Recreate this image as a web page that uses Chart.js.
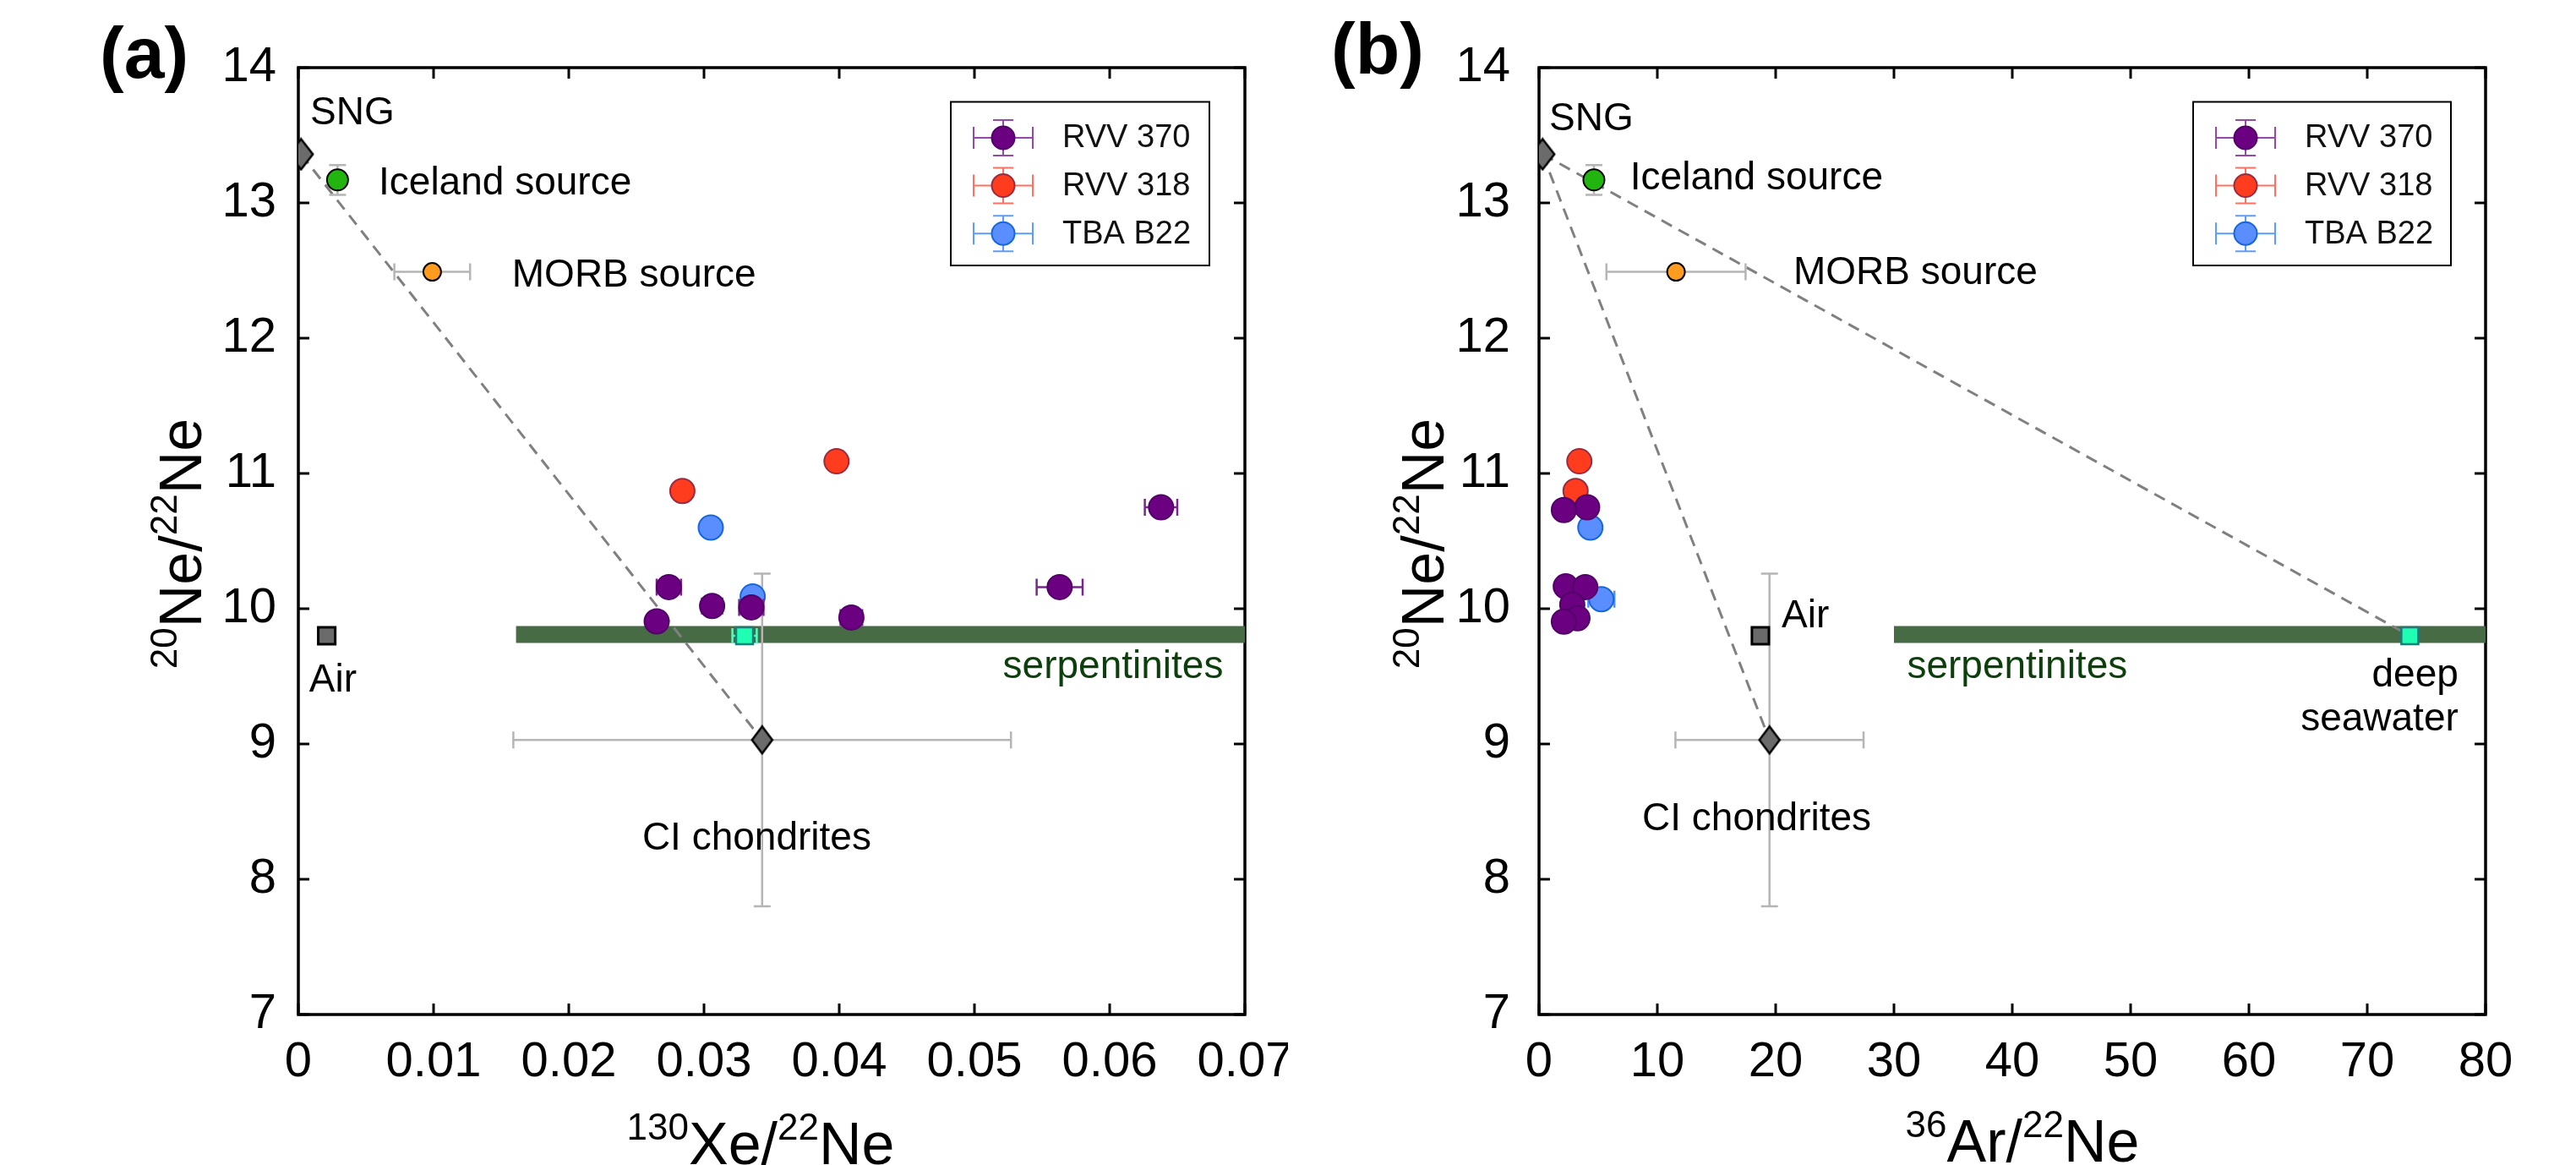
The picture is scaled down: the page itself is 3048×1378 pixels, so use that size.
<!DOCTYPE html>
<html>
<head>
<meta charset="utf-8">
<script src="https://cdn.jsdelivr.net/npm/chart.js@4.4.1/dist/chart.umd.min.js"></script>
<style>
  html, body { margin: 0; padding: 0; background: #fff; }
  #wrap { position: relative; width: 3048px; height: 1378px; }
  canvas { position: absolute; top: 0; }
  #chartA { left: 0; }
  #chartB { left: 1524px; }
</style>
</head>
<body>
<div id="wrap">
  <canvas id="chartA" width="1524" height="1378"></canvas>
  <canvas id="chartB" width="1524" height="1378"></canvas>
</div>
<script>
const FONT = "'Liberation Sans', Arial, Helvetica, sans-serif";

// ====== TICK LABELS ======
const xTicksXe = ['0', '0.01', '0.02', '0.03', '0.04', '0.05', '0.06', '0.07'];
const xTicksAr = ['0', '10', '20', '30', '40', '50', '60', '70', '80'];
const yTicksNe = ['7', '8', '9', '10', '11', '12', '13', '14'];

// ====== SAMPLES (a) 130Xe/22Ne vs 20Ne/22Ne ======
const rvv370XeA    = [0.0638, 0.0274, 0.0563, 0.0306, 0.0335, 0.0409, 0.0265];
const rvv370NeA    = [10.75, 10.16, 10.16, 10.02, 10.01, 9.935, 9.906];
const rvv370XeErrA = [0.0012, 0.0009, 0.0017, 0.00075, 0.0009, 0.0008, 0];
const rvv318XeA    = [0.0284, 0.0398];
const rvv318NeA    = [10.87, 11.09];
const tbaXeA       = [0.0305, 0.0336];
const tbaNeA       = [10.60, 10.09];

// ====== SAMPLES (b) 36Ar/22Ne vs 20Ne/22Ne ======
const rvv370ArB    = [4.07, 2.10, 2.26, 3.91, 2.81, 3.25, 2.10];
const rvv370NeB    = [10.75, 10.73, 10.165, 10.16, 10.03, 9.93, 9.905];
const rvv318ArB    = [3.41, 3.09];
const rvv318NeB    = [11.09, 10.87];
const tbaArB       = [4.34, 5.27];
const tbaNeB       = [10.60, 10.07];
const tbaArErrB    = [0, 1.1];

// ====== END-MEMBERS ======
const endNames = ['SNG', 'Iceland source', 'MORB source', 'Air', 'CI chondrites', 'deep seawater'];
const endNe    = [13.36, 13.17, 12.49, 9.80, 9.03, 9.80];
const endNeErr = [0, 0.11, 0, 0, 1.23, 0];
const endXe    = [0.0002, 0.0029, 0.0099, 0.0021, 0.0343, 0.0330];
const endXeErr = [0, 0, 0.0028, 0, 0.0184, 0.0009];
const endAr    = [0.3, 4.64, 11.58, 18.71, 19.48, 73.6];
const endArErr = [0, 0, 5.88, 0, 7.95, 0];

// serpentinite band
const serpNe = 9.81;
const serpXeRange = [0.0161, 0.07];
const serpArRange = [30, 80];

// ====== MARKERS ======
function makeDiamond(w, h) {
  const c = document.createElement('canvas');
  c.width = w + 4; c.height = h + 4;
  const g = c.getContext('2d');
  g.beginPath();
  g.moveTo(c.width / 2, 2);
  g.lineTo(w + 2, c.height / 2);
  g.lineTo(c.width / 2, h + 2);
  g.lineTo(2, c.height / 2);
  g.closePath();
  g.fillStyle = '#6b6b6b';
  g.fill();
  g.lineWidth = 2.5;
  g.strokeStyle = '#000';
  g.stroke();
  return c;
}
const diamondSNG = makeDiamond(28, 36);
const diamondCI = makeDiamond(24, 32);

function pts(xs, ys) { return xs.map((x, i) => ({ x: x, y: ys[i] })); }

function buildDatasets(P) {
  const E = P.endX, EE = P.endXErr;
  const ep = i => ({ x: E[i], y: endNe[i] });
  const sets = [
    { label: 'RVV 370', data: pts(P.s370x, P.s370y), xErr: P.s370xErr, errColor: '#7a2590', legendBar: '#9448a8',
      backgroundColor: '#6b0080', borderColor: '#53006a', borderWidth: 2, pointRadius: 14.5, inLegend: true },
    { label: 'RVV 318', data: pts(P.s318x, P.s318y), legendBar: '#ff7060',
      backgroundColor: '#ff3c1d', borderColor: '#9b2b3e', borderWidth: 2, pointRadius: 14.5, inLegend: true },
    { label: 'TBA B22', data: pts(P.tbax, P.tbay), xErr: P.tbaxErr, errColor: '#4f8fff', legendBar: '#5c9cff',
      backgroundColor: '#5a8eff', borderColor: '#1667dd', borderWidth: 2, pointRadius: 14.5, inLegend: true },
    { label: endNames[5], data: [ep(5)], xErr: [EE[5]], errColor: '#4dffc6', errCap: 9,
      pointStyle: 'rect', pointRadius: 14.2, backgroundColor: '#1effb3', borderColor: '#1a7b77', borderWidth: 2.5 },
    { label: endNames[3], data: [ep(3)],
      pointStyle: 'rect', pointRadius: 14.2, backgroundColor: '#6b6b6b', borderColor: '#000', borderWidth: 3 },
    { label: endNames[0], data: [ep(0)], pointStyle: diamondSNG, pointRadius: 18 },
    { label: endNames[4], data: [ep(4)], xErr: [EE[4]], yErr: [endNeErr[4]], errColor: '#b5b5b5',
      pointStyle: diamondCI, pointRadius: 16 },
    { label: endNames[1], data: [ep(1)], yErr: [endNeErr[1]], errColor: '#b5b5b5',
      backgroundColor: '#22b40f', borderColor: '#000', borderWidth: 2, pointRadius: 12.5 },
    { label: endNames[2], data: [ep(2)], xErr: [EE[2]], errColor: '#b5b5b5',
      backgroundColor: '#ff9b1f', borderColor: '#000', borderWidth: 2, pointRadius: 10.5 }
  ];
  P.mixing.forEach(pair => {
    sets.push({ label: 'mixing', data: [ep(pair[0]), ep(pair[1])], showLine: true, pointRadius: 0,
      borderColor: '#808080', borderWidth: 3, borderDash: [14, 9] });
  });
  sets.push({ label: 'serpentinites', data: P.serpX.map(x => ({ x: x, y: serpNe })), showLine: true,
    pointRadius: 0, borderColor: '#476b45', borderWidth: 20 });
  return sets;
}

// ====== DRAW HELPERS ======
function supText(ctx, parts, x, y, size) {
  const big = size + 'px ' + FONT, small = Math.round(size * 0.63) + 'px ' + FONT;
  let total = 0;
  parts.forEach(p => { ctx.font = p[1] ? small : big; total += ctx.measureText(p[0]).width; });
  let cx = x - total / 2;
  ctx.textAlign = 'left';
  ctx.textBaseline = 'alphabetic';
  parts.forEach(p => {
    ctx.font = p[1] ? small : big;
    ctx.fillText(p[0], cx, p[1] ? y - size * 0.41 : y);
    cx += ctx.measureText(p[0]).width;
  });
}

function errBars(chart, ds) {
  if (!ds.xErr && !ds.yErr) return;
  const ctx = chart.ctx, xs = chart.scales.x, ys = chart.scales.y;
  const cap = ds.errCap || 10;
  ctx.save();
  ctx.strokeStyle = ds.errColor;
  ctx.lineWidth = 2.5;
  ds.data.forEach((p, i) => {
    const px = xs.getPixelForValue(p.x), py = ys.getPixelForValue(p.y);
    const ex = ds.xErr ? ds.xErr[i] : 0, ey = ds.yErr ? ds.yErr[i] : 0;
    ctx.beginPath();
    if (ex > 0) {
      const x1 = xs.getPixelForValue(p.x - ex), x2 = xs.getPixelForValue(p.x + ex);
      ctx.moveTo(x1, py); ctx.lineTo(x2, py);
      ctx.moveTo(x1, py - cap); ctx.lineTo(x1, py + cap);
      ctx.moveTo(x2, py - cap); ctx.lineTo(x2, py + cap);
    }
    if (ey > 0) {
      const y1 = ys.getPixelForValue(p.y - ey), y2 = ys.getPixelForValue(p.y + ey);
      ctx.moveTo(px, y1); ctx.lineTo(px, y2);
      ctx.moveTo(px - cap, y1); ctx.lineTo(px + cap, y1);
      ctx.moveTo(px - cap, y2); ctx.lineTo(px + cap, y2);
    }
    ctx.stroke();
  });
  ctx.restore();
}

const panelPlugin = {
  id: 'panel',
  beforeDatasetsDraw(chart, args, P) {
    const ctx = chart.ctx, a = chart.chartArea, xs = chart.scales.x, ys = chart.scales.y;
    ctx.save();
    ctx.strokeStyle = '#000';
    ctx.lineWidth = 3;
    ctx.beginPath();
    xs.ticks.forEach((t, i) => {
      const px = xs.getPixelForTick(i);
      ctx.moveTo(px, a.bottom); ctx.lineTo(px, a.bottom - 13);
      ctx.moveTo(px, a.top); ctx.lineTo(px, a.top + 13);
    });
    ys.ticks.forEach((t, i) => {
      const py = ys.getPixelForTick(i);
      ctx.moveTo(a.left, py); ctx.lineTo(a.left + 13, py);
      ctx.moveTo(a.right, py); ctx.lineTo(a.right - 13, py);
    });
    ctx.stroke();
    ctx.lineWidth = 3.5;
    ctx.strokeRect(a.left, a.top, a.right - a.left, a.bottom - a.top);
    ctx.restore();
  },
  beforeDatasetDraw(chart, args) {
    errBars(chart, chart.data.datasets[args.index]);
  },
  afterDatasetsDraw(chart, args, P) {
    const ctx = chart.ctx, xs = chart.scales.x, ys = chart.scales.y;
    ctx.save();
    // annotations
    P.labels.forEach(l => {
      ctx.font = '46px ' + FONT;
      ctx.fillStyle = l.color || '#000';
      ctx.textAlign = l.align || 'left';
      ctx.textBaseline = 'alphabetic';
      ctx.fillText(l.text, xs.getPixelForValue(l.x), ys.getPixelForValue(l.y));
    });
    // legend
    const L = P.legend;
    ctx.fillStyle = '#fff';
    ctx.fillRect(L.left, L.top, L.width, L.height);
    ctx.strokeStyle = '#000';
    ctx.lineWidth = 2;
    ctx.strokeRect(L.left, L.top, L.width, L.height);
    chart.data.datasets.filter(d => d.inLegend).forEach((d, i) => {
      const cx = L.left + 62, cy = L.top + 42.5 + i * 56.6;
      ctx.strokeStyle = d.legendBar;
      ctx.lineWidth = 2;
      ctx.beginPath();
      ctx.moveTo(cx - 35, cy); ctx.lineTo(cx + 35, cy);
      ctx.moveTo(cx - 35, cy - 13); ctx.lineTo(cx - 35, cy + 13);
      ctx.moveTo(cx + 35, cy - 13); ctx.lineTo(cx + 35, cy + 13);
      ctx.moveTo(cx, cy - 21); ctx.lineTo(cx, cy + 21);
      ctx.moveTo(cx - 12, cy - 21); ctx.lineTo(cx + 12, cy - 21);
      ctx.moveTo(cx - 12, cy + 21); ctx.lineTo(cx + 12, cy + 21);
      ctx.stroke();
      ctx.beginPath();
      ctx.arc(cx, cy, 13.5, 0, Math.PI * 2);
      ctx.fillStyle = d.backgroundColor;
      ctx.fill();
      ctx.strokeStyle = d.borderColor;
      ctx.lineWidth = 2;
      ctx.stroke();
      ctx.fillStyle = '#111';
      ctx.font = '38px ' + FONT;
      ctx.textAlign = 'left';
      ctx.textBaseline = 'middle';
      ctx.fillText(d.label, L.left + 132, cy + 1);
    });
    // axis titles and panel letter
    ctx.fillStyle = '#000';
    supText(ctx, P.xTitle, P.xTitlePos[0], P.xTitlePos[1], 70);
    ctx.save();
    ctx.translate(P.yTitlePos[0], P.yTitlePos[1]);
    ctx.rotate(-Math.PI / 2);
    supText(ctx, P.yTitle, 0, 0, 70);
    ctx.restore();
    ctx.font = 'bold 86px ' + FONT;
    ctx.textAlign = 'left';
    ctx.textBaseline = 'alphabetic';
    ctx.fillText(P.letter, P.letterPos[0], P.letterPos[1]);
    ctx.restore();
  }
};

function makeChart(P) {
  const canvas = document.getElementById(P.canvas);
  const W = canvas.width, H = canvas.height;
  return new Chart(canvas.getContext('2d'), {
    type: 'scatter',
    data: { datasets: buildDatasets(P) },
    plugins: [panelPlugin],
    options: {
      responsive: false,
      devicePixelRatio: 1,
      animation: false,
      events: [],
      layout: { padding: { left: 0, top: P.area.top, right: W - P.area.right, bottom: 0 } },
      plugins: { legend: { display: false }, tooltip: { enabled: false }, panel: P },
      scales: {
        x: {
          type: 'linear', min: P.xMin, max: P.xMax,
          grid: { display: false, drawTicks: false },
          border: { display: false },
          ticks: { stepSize: P.xStep, autoSkip: false, maxRotation: 0, padding: 22, color: '#000',
            font: { family: FONT, size: 58 }, callback: (v, i) => P.xTicks[i] },
          afterFit: s => { s.height = H - P.area.bottom; s.paddingLeft = 0; s.paddingRight = 0; }
        },
        y: {
          type: 'linear', min: 7, max: 14,
          grid: { display: false, drawTicks: false },
          border: { display: false },
          ticks: { stepSize: 1, autoSkip: false, padding: P.yTickPad, color: '#000',
            font: { family: FONT, size: 58 }, callback: (v, i) => yTicksNe[i] },
          afterFit: s => { s.width = P.area.left; s.paddingTop = 0; s.paddingBottom = 0; }
        }
      }
    }
  });
}

const yTitle = [['20', true], ['Ne/', false], ['22', true], ['Ne', false]];

makeChart({
  canvas: 'chartA', letter: '(a)', letterPos: [118, 92],
  area: { left: 353, right: 1473, top: 80, bottom: 1200 },
  xMin: 0, xMax: 0.07, xStep: 0.01, xTicks: xTicksXe, yTickPad: 26,
  xTitle: [['130', true], ['Xe/', false], ['22', true], ['Ne', false]], xTitlePos: [900, 1377],
  yTitle: yTitle, yTitlePos: [238, 643],
  s370x: rvv370XeA, s370y: rvv370NeA, s370xErr: rvv370XeErrA,
  s318x: rvv318XeA, s318y: rvv318NeA, tbax: tbaXeA, tbay: tbaNeA, tbaxErr: null,
  endX: endXe, endXErr: endXeErr, mixing: [[0, 4]], serpX: serpXeRange,
  legend: { left: 1125, top: 120.5, width: 306, height: 193.5 },
  labels: [
    { text: 'SNG', x: 0.000875, y: 13.58 },
    { text: 'Iceland source', x: 0.00594, y: 13.0625 },
    { text: 'MORB source', x: 0.0158, y: 12.38 },
    { text: 'Air', x: 0.0008, y: 9.3875 },
    { text: 'CI chondrites', x: 0.0339, y: 8.22, align: 'center' },
    { text: 'serpentinites', x: 0.0521, y: 9.4875, color: '#0c3f0c' }
  ]
});

makeChart({
  canvas: 'chartB', letter: '(b)', letterPos: [51, 87],
  area: { left: 297, right: 1417, top: 80, bottom: 1200 },
  xMin: 0, xMax: 80, xStep: 10, xTicks: xTicksAr, yTickPad: 34,
  xTitle: [['36', true], ['Ar/', false], ['22', true], ['Ne', false]], xTitlePos: [869, 1374],
  yTitle: yTitle, yTitlePos: [184, 643],
  s370x: rvv370ArB, s370y: rvv370NeB, s370xErr: null,
  s318x: rvv318ArB, s318y: rvv318NeB, tbax: tbaArB, tbay: tbaNeB, tbaxErr: tbaArErrB,
  endX: endAr, endXErr: endArErr, mixing: [[0, 4], [0, 5]], serpX: serpArRange,
  legend: { left: 1071, top: 120.5, width: 305, height: 193.5 },
  labels: [
    { text: 'SNG', x: 0.86, y: 13.54 },
    { text: 'Iceland source', x: 7.7, y: 13.1 },
    { text: 'MORB source', x: 21.5, y: 12.4 },
    { text: 'Air', x: 20.5, y: 9.86 },
    { text: 'CI chondrites', x: 18.4, y: 8.36, align: 'center' },
    { text: 'serpentinites', x: 31.1, y: 9.49, color: '#0c3f0c' },
    { text: 'deep', x: 77.7, y: 9.425, align: 'right' },
    { text: 'seawater', x: 77.7, y: 9.10, align: 'right' }
  ]
});
</script>
</body>
</html>
